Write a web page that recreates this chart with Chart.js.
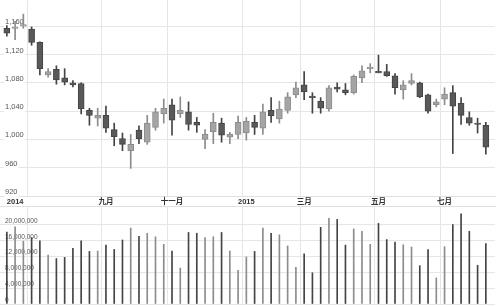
<!DOCTYPE html>
<html lang="zh">
<head>
    <meta charset="UTF-8">
    <title>K线图</title>
    <script src="https://cdn.jsdelivr.net/npm/chart.js"></script>
    <style>
        body { margin: 0; background: #fff; }
        #wrap { position: relative; width: 500px; height: 307px; overflow: hidden; }
        #priceBox { position: absolute; left: 0; top: 0; width: 500px; height: 206px; }
        #volBox { position: absolute; left: 0; top: 206px; width: 500px; height: 101px; }
    </style>
</head>
<body>
<div id="wrap">
    <div id="priceBox"><canvas id="priceChart"></canvas></div>
    <div id="volBox"><canvas id="volChart"></canvas></div>
</div>
<script>
    // weekly candles
    const openP  = [1157,1157,1160,1156,1137,1091,1099,1087,1080,1079,1041,1030,1034,1014,1001,984,1013,996,1017,1036,
                    1049,1036,1039,1024,1000,1011,1023,1003,1007,1009,1024,1016,1041,1029,1041,1063,1077,1061,1054,1043,
                    1074,1070,1066,1087,1100,1096,1096,1090,1070,1079,1080,1063,1049,1057,1066,1051,1031,1023,1020];
    const highP  = [1161,1167,1177,1159,1138,1100,1104,1100,1083,1080,1044,1044,1047,1023,1009,1007,1019,1034,1044,1057,
                    1057,1060,1053,1031,1014,1037,1030,1010,1033,1031,1034,1050,1059,1054,1066,1081,1096,1066,1059,1076,
                    1080,1079,1091,1104,1107,1119,1106,1093,1083,1093,1081,1064,1057,1073,1076,1059,1039,1030,1024];
    const lowP   = [1146,1141,1157,1133,1091,1088,1078,1077,1074,1036,1020,1019,1010,991,984,959,994,993,1013,1023,
                    1006,1031,1013,1010,987,994,996,994,1001,999,1007,1007,1024,1023,1037,1059,1056,1037,1037,1040,
                    1067,1063,1064,1080,1094,1094,1089,1064,1057,1077,1059,1037,1046,1049,980,1021,1020,1009,979];
    const closeP = [1150,1159,1162,1137,1100,1096,1084,1081,1077,1043,1034,1034,1016,1004,993,993,1001,1023,1039,1044,
                    1027,1041,1021,1020,1007,1024,1006,1007,1024,1026,1017,1039,1033,1043,1060,1073,1067,1059,1044,1073,
                    1071,1066,1089,1097,1101,1094,1090,1073,1077,1083,1060,1040,1053,1064,1047,1034,1023,1021,989];
    const volume = [18.2,19.5,15.9,16.8,16.0,12.4,11.5,11.8,14.1,16.0,13.3,13.4,14.9,13.8,16.2,19.2,17.1,17.9,17.0,15.1,
                    13.4,9.1,18.1,17.9,16.8,17.0,18.1,13.4,8.5,11.9,13.3,19.2,17.9,17.5,14.7,9.3,12.7,7.9,19.4,21.7,
                    21.4,14.9,19.0,18.4,15.1,20.4,16.3,15.7,15.0,14.4,9.7,13.8,6.6,14.5,20.1,22.8,18.4,9.8,15.3]
                    .map(v => v * 1000000);

    // axis labels by candle index, and where the month grid lines go
    const xLabels = { 0: '2014', 12: '九月', 20: '十一月', 29: '2015', 36: '三月', 45: '五月', 53: '七月' };
    const xGridAt = [3, 12, 20, 29, 36, 45, 53];
    const priceTicks = [920, 960, 1000, 1040, 1080, 1120, 1160];
    const volTicks = [0, 4000000, 8000000, 12000000, 16000000, 20000000];
    const priceRange = [920, 1197];
    const volRange = [0, 24800000];

    const up = openP.map((o, i) => closeP[i] >= o);
    const fill = up.map(u => u ? '#a4a4a4' : '#595959');
    const edge = up.map(u => u ? '#8c8c8c' : '#444444');
    const idx = openP.map((o, i) => i);

    Chart.defaults.font.family = "'Liberation Sans', Arial, sans-serif";
    Chart.defaults.animation = false;

    const gridColor = '#e6e6e6';

    function noPad(s) {
        s.paddingTop = 0; s.paddingBottom = 0; s.paddingLeft = 0; s.paddingRight = 0;
    }

    function xAxis(showLabels) {
        return {
            type: 'linear',
            min: -0.32,
            max: 58.6,
            position: showLabels ? 'bottom' : 'top',
            afterBuildTicks: s => { s.ticks = idx.map(i => ({ value: i })); },
            afterFit: s => { s.height = showLabels ? 10 : 0; noPad(s); },
            grid: {
                drawTicks: false,
                color: ctx => (ctx.tick && xGridAt.includes(ctx.tick.value)) ? gridColor : 'rgba(0,0,0,0)'
            },
            border: { display: true, color: '#e0e0e0' },
            ticks: {
                display: showLabels,
                autoSkip: false,
                maxRotation: 0,
                align: 'inner',
                padding: 1,
                color: '#333',
                font: { family: "'Liberation Sans', 'Noto Sans CJK SC', sans-serif", size: 7.5, weight: 'bold' },
                callback: v => xLabels[v] || ''
            }
        };
    }

    function yAxis(range, tickVals, size, backdrop) {
        return {
            min: range[0],
            max: range[1],
            afterBuildTicks: s => { s.ticks = tickVals.map(v => ({ value: v })); },
            afterFit: s => { s.width = 0; noPad(s); },
            grid: { color: gridColor, drawTicks: false },
            border: { display: false },
            ticks: {
                mirror: true,
                padding: 5,
                labelOffset: -4,
                color: '#555',
                font: { size: size },
                showLabelBackdrop: backdrop,
                backdropColor: '#ffffff',
                backdropPadding: 1,
                callback: v => v.toLocaleString('en-US')
            }
        };
    }

    new Chart(document.getElementById('priceChart'), {
        type: 'bar',
        data: {
            datasets: [{
                label: 'body',
                data: idx.map(i => ({ x: i, y: [openP[i], closeP[i]] })),
                backgroundColor: fill,
                borderColor: edge,
                borderWidth: 1,
                borderSkipped: false,
                barThickness: 6,
                minBarLength: 1.5,
                grouped: false
            }, {
                label: 'wick',
                data: idx.map(i => ({ x: i, y: [lowP[i], highP[i]] })),
                backgroundColor: edge,
                barThickness: 1,
                grouped: false
            }]
        },
        options: {
            responsive: true,
            maintainAspectRatio: false,
            layout: { padding: { left: 0, right: 5, top: 0, bottom: 0 } },
            plugins: { legend: { display: false }, tooltip: { enabled: false } },
            scales: {
                x: xAxis(true),
                y: yAxis(priceRange, priceTicks, 7.5, true)
            }
        }
    });

    new Chart(document.getElementById('volChart'), {
        type: 'bar',
        data: {
            datasets: [{
                label: 'volume',
                data: idx.map(i => ({ x: i, y: volume[i] })),
                backgroundColor: edge,
                barThickness: 1
            }]
        },
        options: {
            responsive: true,
            maintainAspectRatio: false,
            layout: { padding: { left: 0, right: 5, top: 0, bottom: 3 } },
            plugins: { legend: { display: false }, tooltip: { enabled: false } },
            scales: {
                x: xAxis(false),
                y: yAxis(volRange, volTicks, 6.5, false)
            }
        }
    });
</script>
</body>
</html>
